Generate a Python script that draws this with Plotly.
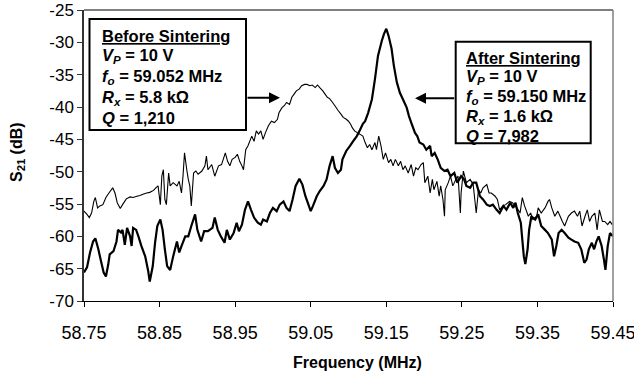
import plotly.graph_objects as go

# ---------------- data ----------------
after_freq = [
    58.750, 58.754, 58.758, 58.762, 58.765, 58.769, 58.772, 58.776, 58.779, 58.782,
    58.784, 58.789, 58.793, 58.795, 58.799, 58.801, 58.804, 58.807, 58.811, 58.813,
    58.815, 58.819, 58.822, 58.826, 58.831, 58.835, 58.837, 58.841, 58.844, 58.847,
    58.851, 58.854, 58.857, 58.860, 58.864, 58.868, 58.873, 58.876, 58.879, 58.884,
    58.888, 58.892, 58.897, 58.900, 58.905, 58.909, 58.914, 58.920, 58.923, 58.927,
    58.931, 58.936, 58.939, 58.943, 58.948, 58.952, 58.955, 58.959, 58.963, 58.967,
    58.971, 58.975, 58.980, 58.984, 58.987, 58.992, 58.996, 59.000, 59.005, 59.009,
    59.014, 59.018, 59.022, 59.026, 59.030, 59.035, 59.039, 59.043, 59.047, 59.050,
    59.053, 59.058, 59.062, 59.067, 59.071, 59.075, 59.079, 59.082, 59.086, 59.090,
    59.092, 59.097, 59.102, 59.106, 59.111, 59.115, 59.119, 59.122, 59.126, 59.131,
    59.135, 59.139, 59.144, 59.147, 59.150, 59.153, 59.157, 59.160, 59.164, 59.168,
    59.172, 59.177, 59.180, 59.183, 59.188, 59.191, 59.194, 59.199, 59.203, 59.208,
    59.210, 59.214, 59.218, 59.222, 59.227, 59.231, 59.235, 59.240, 59.244, 59.249,
    59.253, 59.256, 59.261, 59.265, 59.269, 59.274, 59.278, 59.283, 59.287, 59.291,
    59.296, 59.300, 59.305, 59.309, 59.314, 59.318, 59.321, 59.324, 59.328, 59.330,
    59.332, 59.334, 59.337, 59.339, 59.342, 59.347, 59.351, 59.355, 59.360, 59.364,
    59.369, 59.372, 59.375, 59.378, 59.382, 59.386, 59.391, 59.395, 59.399, 59.404,
    59.408, 59.412, 59.415, 59.418, 59.422, 59.425, 59.428, 59.431, 59.435, 59.438,
    59.440, 59.443, 59.446, 59.450,
]
after_db = [
    -65.6, -64.8, -62.5, -60.8, -60.3, -62.0, -63.6, -65.6, -66.2, -64.4,
    -62.8, -62.3, -60.8, -59.0, -59.4, -59.0, -61.3, -58.7, -60.0, -61.5,
    -58.7, -59.0, -60.0, -61.5, -63.1, -65.4, -67.0, -64.6, -61.0, -58.4,
    -57.4, -59.0, -62.0, -64.6, -65.2, -63.1, -60.8, -62.5, -61.5, -60.0,
    -60.0, -58.4, -56.6, -59.0, -60.8, -59.2, -59.2, -58.7, -57.1, -59.0,
    -60.0, -61.0, -59.0, -60.5, -59.5, -57.9, -59.2, -58.2, -55.9, -54.6,
    -55.9, -57.1, -57.9, -58.2, -57.4, -57.7, -56.4, -55.6, -56.1, -55.1,
    -54.6, -55.6, -56.1, -54.3, -52.2, -51.1, -52.0, -53.8, -55.1, -56.1,
    -55.3, -53.8, -53.0, -52.2, -51.2, -49.1, -47.6, -49.4, -50.2, -49.7,
    -48.1, -46.8, -46.0, -45.3, -44.5, -43.6, -42.6, -42.2, -40.9, -38.8,
    -35.7, -32.1, -29.8, -28.7, -27.9, -29.0, -31.0, -33.6, -36.2, -37.8,
    -38.8, -40.1, -41.4, -42.4, -44.0, -44.5, -45.5, -45.8, -46.6, -46.0,
    -47.6, -47.1, -48.1, -49.4, -49.9, -49.7, -50.7, -50.2, -51.7, -50.7,
    -51.2, -52.2, -52.5, -51.7, -51.7, -53.8, -54.3, -55.1, -55.3, -55.1,
    -55.9, -56.4, -55.3, -55.9, -54.8, -55.6, -54.8, -56.4, -57.9, -60.5,
    -63.1, -64.3, -62.0, -59.0, -56.9, -57.4, -56.6, -58.4, -59.0, -59.5,
    -60.5, -63.1, -61.5, -59.5, -59.0, -59.5, -60.2, -60.5, -60.8, -61.0,
    -62.0, -64.1, -63.6, -62.0, -61.0, -62.0, -60.8, -60.0, -61.5, -63.6,
    -65.2, -61.5, -59.5, -60.0,
]

before_freq = [
    58.750, 58.754, 58.757, 58.760, 58.763, 58.765, 58.768, 58.771, 58.775, 58.779,
    58.783, 58.788, 58.791, 58.794, 58.798, 58.801, 58.806, 58.811, 58.815, 58.820,
    58.824, 58.828, 58.833, 58.837, 58.842, 58.845, 58.848, 58.851, 58.853, 58.855,
    58.857, 58.859, 58.862, 58.864, 58.868, 58.873, 58.876, 58.879, 58.881, 58.883,
    58.886, 58.888, 58.890, 58.892, 58.895, 58.898, 58.901, 58.906, 58.910, 58.912,
    58.914, 58.919, 58.923, 58.928, 58.932, 58.937, 58.940, 58.943, 58.946, 58.950,
    58.953, 58.956, 58.959, 58.961, 58.964, 58.967, 58.972, 58.975, 58.978, 58.981,
    58.984, 58.987, 58.990, 58.994, 58.998, 59.002, 59.006, 59.008, 59.012, 59.015,
    59.018, 59.022, 59.025, 59.028, 59.031, 59.035, 59.038, 59.042, 59.045, 59.049,
    59.052, 59.056, 59.059, 59.062, 59.066, 59.069, 59.072, 59.075, 59.079, 59.082,
    59.086, 59.090, 59.093, 59.097, 59.100, 59.103, 59.105, 59.108, 59.112, 59.115,
    59.119, 59.122, 59.125, 59.128, 59.131, 59.135, 59.137, 59.140, 59.143, 59.146,
    59.149, 59.153, 59.156, 59.159, 59.162, 59.166, 59.169, 59.172, 59.175, 59.179,
    59.183, 59.186, 59.189, 59.192, 59.196, 59.199, 59.201, 59.205, 59.208, 59.211,
    59.213, 59.217, 59.220, 59.222, 59.225, 59.227, 59.228, 59.232, 59.235, 59.238,
    59.242, 59.245, 59.248, 59.249, 59.252, 59.256, 59.261, 59.265, 59.269, 59.272,
    59.275, 59.278, 59.283, 59.286, 59.289, 59.294, 59.297, 59.300, 59.304, 59.308,
    59.313, 59.317, 59.320, 59.323, 59.327, 59.330, 59.333, 59.338, 59.341, 59.344,
    59.349, 59.351, 59.355, 59.360, 59.364, 59.366, 59.369, 59.373, 59.377, 59.380,
    59.383, 59.386, 59.391, 59.395, 59.399, 59.403, 59.406, 59.409, 59.413, 59.416,
    59.419, 59.422, 59.426, 59.429, 59.432, 59.436, 59.439, 59.443, 59.446, 59.449,
]
before_db = [
    -56.1, -56.6, -57.1, -56.4, -54.6, -54.0, -55.6, -55.3, -55.1, -54.0,
    -53.3, -52.5, -53.3, -54.8, -55.7, -55.1, -54.2, -53.9, -54.0, -53.8,
    -53.7, -53.5, -53.3, -53.2, -52.9, -52.5, -52.2, -55.1, -50.7, -49.7,
    -54.3, -55.1, -50.2, -52.2, -51.7, -52.2, -51.5, -53.3, -50.7, -47.1,
    -49.7, -51.2, -52.2, -55.3, -50.2, -49.9, -50.4, -49.9, -49.1, -47.6,
    -49.7, -48.9, -50.7, -49.1, -48.9, -47.1, -48.4, -49.1, -48.1, -47.8,
    -47.3, -48.4, -49.1, -49.7, -46.6, -46.0, -44.5, -45.3, -43.7, -44.2,
    -43.7, -45.0, -44.0, -42.9, -42.2, -42.4, -41.9, -40.9, -40.1, -39.8,
    -39.3, -39.6, -38.5, -38.0, -37.5, -37.2, -36.7, -36.5, -36.5, -36.7,
    -36.6, -37.0, -36.6, -37.0, -37.5, -38.0, -38.5, -38.7, -39.3, -39.8,
    -40.5, -41.1, -41.6, -41.9, -42.2, -42.7, -43.2, -43.7, -44.0, -44.2,
    -44.5, -45.5, -46.3, -45.8, -46.6, -45.5, -46.6, -44.5, -46.0, -48.1,
    -47.1, -48.6, -48.1, -49.1, -48.1, -49.1, -48.4, -49.7, -49.1, -50.2,
    -48.9, -50.7, -49.4, -49.7, -48.9, -48.6, -51.7, -50.7, -53.3, -51.2,
    -52.8, -51.5, -53.8, -52.2, -54.3, -56.9, -52.8, -51.7, -50.7, -52.2,
    -51.2, -50.7, -56.4, -53.3, -49.9, -51.7, -51.2, -52.0, -56.4, -52.8,
    -53.3, -52.5, -52.0, -53.3, -53.3, -53.8, -54.3, -55.9, -55.3, -55.1,
    -54.6, -54.8, -55.3, -55.6, -56.4, -54.0, -55.3, -56.9, -56.4, -57.4,
    -56.9, -55.6, -56.4, -55.6, -54.6, -54.3, -55.6, -56.9, -56.1, -56.9,
    -57.7, -58.4, -56.9, -56.4, -56.1, -56.9, -56.1, -58.4, -56.9, -55.9,
    -57.7, -56.9, -56.4, -59.0, -55.9, -57.7, -57.7, -58.2, -57.7, -58.2,
]

x_ticks = [58.75, 58.85, 58.95, 59.05, 59.15, 59.25, 59.35, 59.45]
x_ticktext = ["58.75", "58.85", "58.95", "59.05", "59.15", "59.25", "59.35", "59.45"]
y_ticks = [-25, -30, -35, -40, -45, -50, -55, -60, -65, -70]
y_ticktext = ["-25", "-30", "-35", "-40", "-45", "-50", "-55", "-60", "-65", "-70"]

before_lines = [
    "<b><u>Before Sintering</u></b>",
    "<b><i>V</i><sub><i>P</i></sub> = 10 V</b>",
    "<b><i>f</i><sub><i>o</i></sub> = 59.052 MHz</b>",
    "<b><i>R</i><sub><i>x</i></sub> = 5.8 kΩ</b>",
    "<b><i>Q</i> = 1,210</b>",
]
after_lines = [
    "<b><u>After Sintering</u></b>",
    "<b><i>V</i><sub><i>P</i></sub> = 10 V</b>",
    "<b><i>f</i><sub><i>o</i></sub> = 59.150 MHz</b>",
    "<b><i>R</i><sub><i>x</i></sub> = 1.6 kΩ</b>",
    "<b><i>Q</i> = 7,982</b>",
]

# ---------------- layout geometry (pixels) ----------------
W, H = 634, 374
L, R, T, B = 84, 21, 10, 73
PW, PH = W - L - R, H - T - B
FONT = "Arial, Liberation Sans, sans-serif"


def px(xp):
    return (xp - L) / PW


def py(yp):
    return (H - B - yp) / PH


fig = go.Figure()
fig.add_trace(go.Scatter(x=before_freq, y=before_db, mode="lines",
                         line=dict(color="black", width=1.1, simplify=False),
                         name="Before Sintering", showlegend=False))
fig.add_trace(go.Scatter(x=after_freq, y=after_db, mode="lines",
                         line=dict(color="black", width=2.2, simplify=False),
                         name="After Sintering", showlegend=False))

shapes = []
annotations = []

# frame: top and right edges
shapes.append(dict(type="line", xref="paper", yref="paper", x0=0, x1=1, y0=1, y1=1,
                   line=dict(color="black", width=1)))
shapes.append(dict(type="line", xref="paper", yref="paper", x0=1, x1=1, y0=0, y1=1,
                   line=dict(color="#808080", width=1.5)))

# text boxes
boxes = [
    (89.5, 19, 246, 130, 100, [34.5, 55, 76, 96.5, 117], before_lines),
    (455.7, 41.7, 590.7, 143.3, 464, [57, 76.5, 96, 115.5, 135], after_lines),
]
for x0, y0, x1, y1, tx, rows, lines in boxes:
    shapes.append(dict(type="rect", xref="paper", yref="paper",
                       x0=px(x0), x1=px(x1), y0=py(y1), y1=py(y0),
                       line=dict(color="black", width=2), fillcolor="white",
                       layer="above"))
    for yy, txt in zip(rows, lines):
        annotations.append(dict(xref="paper", yref="paper", x=px(tx), y=py(yy + 1),
                                xanchor="left", yanchor="middle", text=txt,
                                showarrow=False,
                                font=dict(family=FONT, size=16.5, color="black")))

# arrows (head position, tail offset in pixels)
for (xt, yt, xh, yh) in [(246, 97.7, 280, 97.7), (455.7, 98.3, 415, 98.3)]:
    annotations.append(dict(xref="paper", yref="paper", x=px(xh), y=py(yh),
                            axref="pixel", ayref="pixel", ax=xt - xh, ay=yt - yh,
                            text="", showarrow=True, arrowhead=2, arrowsize=1.1,
                            arrowwidth=2, arrowcolor="black", standoff=0,
                            startstandoff=0))

# axis titles
annotations.append(dict(xref="paper", yref="paper", x=px(357), y=py(362),
                        xanchor="center", yanchor="middle",
                        text="<b>Frequency (MHz)</b>", showarrow=False,
                        font=dict(family=FONT, size=16, color="black")))
annotations.append(dict(xref="paper", yref="paper", x=px(17), y=py(152),
                        xanchor="center", yanchor="middle", textangle=-90,
                        text="<b>S<sub>21</sub> (dB)</b>", showarrow=False,
                        font=dict(family=FONT, size=16, color="black")))

fig.update_layout(
    template="none",
    width=W, height=H,
    margin=dict(l=L, r=R, t=T, b=B, pad=0, autoexpand=False),
    paper_bgcolor="white", plot_bgcolor="white",
    showlegend=False,
    shapes=shapes, annotations=annotations,
    font=dict(family=FONT, color="black"),
    xaxis=dict(range=[58.75, 59.45], tickvals=x_ticks, ticktext=x_ticktext,
               showgrid=False, zeroline=False, showline=True, linecolor="black",
               linewidth=1, ticks="outside", ticklen=5, tickcolor="black",
               tickfont=dict(family=FONT, size=18, color="black"),
               ticklabelstandoff=10, ticklabeloverflow="allow",
               automargin=False, fixedrange=True),
    yaxis=dict(range=[-70, -25], tickvals=y_ticks, ticktext=y_ticktext,
               showgrid=False, zeroline=False, showline=True, linecolor="#333333",
               linewidth=1.5, ticks="outside", ticklen=5, tickcolor="#333333",
               tickfont=dict(family=FONT, size=17, color="black"),
               ticklabelstandoff=0, ticklabeloverflow="allow",
               automargin=False, fixedrange=True),
)

fig.write_html("out.html", config={"displayModeBar": False})
